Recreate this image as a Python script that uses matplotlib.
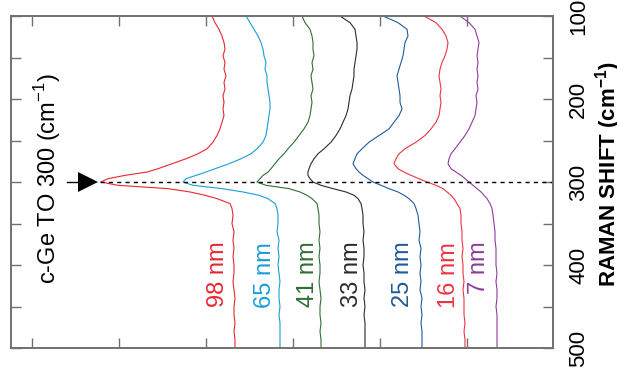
import matplotlib
matplotlib.use("Agg")
import matplotlib.pyplot as plt

plt.rcParams['font.family'] = ['Liberation Sans', 'DejaVu Sans']
plt.rcParams['mathtext.fontset'] = 'custom'
plt.rcParams['mathtext.rm'] = 'Liberation Sans'
plt.rcParams['mathtext.bf'] = 'Liberation Sans:bold'

# Raman shift grid (cm-1)
shift = [100, 108, 116, 124, 132, 140, 148, 156, 164, 172, 180, 188, 196, 204, 212, 220, 228, 236, 244, 252, 260,
         266, 272, 278, 284, 288, 292, 296, 300, 304, 308, 312, 316, 320, 326, 332, 340,
         350, 360, 370, 380, 390, 400, 410, 420, 430, 440, 450, 460, 470, 480, 490, 500]

# offset intensities (a.u.), one list per nanowire size
nw98 = [212, 215, 219, 222, 224, 225, 223, 225, 224, 226, 224, 225, 223, 224, 223, 224, 222, 220, 217, 213, 207,
        198, 186, 172, 158, 147, 125, 108, 101, 118, 168, 190, 205, 217, 230, 232, 233,
        232, 234, 233, 234, 233, 234, 234, 233, 234, 235, 234, 234, 235, 234, 235, 235]
nw65 = [246, 250, 254, 258, 261, 263, 264, 266, 265, 267, 267, 268, 269, 270, 270, 269, 268, 267, 266, 263, 257,
        251, 241, 229, 215, 206, 196, 186, 183, 193, 222, 243, 259, 268, 275, 277, 278,
        278, 277, 279, 278, 279, 278, 279, 280, 279, 279, 280, 279, 280, 280, 280, 280]
nw41 = [302, 305, 310, 312, 313, 313, 314, 312, 313, 311, 312, 313, 311, 312, 311, 310, 308, 304, 299, 294, 288,
        284, 279, 275, 271, 268, 263, 260, 257, 266, 289, 300, 307, 312, 317, 318, 319,
        319, 320, 319, 320, 319, 320, 320, 319, 320, 321, 320, 320, 321, 320, 321, 321]
nw33 = [340, 350, 355, 356, 357, 357, 356, 355, 354, 354, 353, 352, 350, 349, 348, 346, 343, 340, 336, 331, 324,
        318, 314, 311, 309, 308, 308, 310, 313, 321, 333, 346, 354, 358, 361, 362, 363,
        363, 364, 363, 364, 364, 363, 364, 364, 365, 364, 365, 364, 365, 365, 365, 365]
nw25 = [383, 398, 407, 408, 405, 404, 403, 401, 399, 397, 398, 399, 400, 400, 402, 399, 394, 389, 379, 369, 362,
        357, 355, 353, 356, 359, 363, 368, 373, 381, 389, 398, 404, 409, 414, 416, 418,
        419, 420, 419, 421, 420, 421, 420, 421, 420, 422, 421, 422, 421, 422, 422, 422]
nw16 = [424, 436, 442, 446, 448, 447, 445, 442, 440, 439, 440, 441, 440, 441, 440, 439, 436, 431, 425, 416, 405,
        399, 396, 394, 398, 404, 411, 419, 427, 436, 443, 447, 451, 454, 457, 460, 461,
        461, 462, 462, 463, 462, 463, 463, 464, 463, 464, 464, 464, 465, 464, 465, 465]
nw7 = [460, 469, 475, 477, 479, 478, 477, 478, 477, 478, 477, 478, 476, 477, 476, 475, 472, 469, 465, 460, 455,
       451, 449, 448, 451, 456, 461, 465, 469, 473, 477, 481, 484, 487, 490, 492, 493,
       494, 495, 495, 496, 496, 496, 497, 496, 497, 497, 496, 497, 497, 497, 497, 497]

spectra = [nw98, nw65, nw41, nw33, nw25, nw16, nw7]
labels = ['98 nm', '65 nm', '41 nm', '33 nm', '25 nm', '16 nm', '7 nm']
label_x = [218, 265, 308, 352, 403, 449, 479]
colors = ['#e8272f', '#1a9ddb', '#2f6e35', '#2b2b2b', '#1f5b99', '#ef3340', '#8e3b9c']

cge_to = 300
x_ticks = [32, 119, 206, 293, 380, 467]

fig = plt.figure(figsize=(6.17, 3.76), dpi=100)
ax = fig.add_axes([11 / 617, 1 - 348 / 376, 542 / 617, 332 / 376])

for s, lab, lx, c in zip(spectra, labels, label_x, colors):
    ax.plot(s, shift, color=c, lw=0.8)
    ax.text(lx, 372, lab, color=c, fontsize=17, rotation=90,
            rotation_mode='anchor', ha='right', va='center')

# c-Ge reference
ax.axhline(cge_to, xmin=(100 - 11) / 542, xmax=1, color='black', lw=1, ls=(0, (3, 3)))
ax.plot([67, 82], [cge_to, cge_to], color='black', lw=1)
ax.plot(88, cge_to, marker='>', color='black', ms=14, markeredgewidth=0)
ax.text(48, 296, 'c-Ge TO 300 (cm$^{-1}$)', fontsize=17, rotation=90,
        rotation_mode='anchor', ha='center', va='center')

ax.set_xlim(11, 553)
ax.set_ylim(500, 100)
ax.set_xticks(x_ticks)
ax.set_yticks(range(100, 501, 50))
ax.set_yticklabels([str(v) if v % 100 == 0 else '' for v in range(100, 501, 50)])

gray = '#707070'
for sp in ax.spines.values():
    sp.set_color(gray)
    sp.set_linewidth(1.4)

ax.tick_params(axis='x', direction='in', top=True, bottom=True, labelbottom=False,
               length=7.5, width=1, color=gray)
ax.tick_params(axis='y', direction='in', left=True, right=True, labelleft=False,
               labelright=True, length=7, width=1, color=gray, labelsize=16,
               labelrotation=90, pad=11)
for t in ax.get_yticklabels():
    t.set_va('center')

ax.yaxis.set_label_position('right')
ax.set_ylabel(r'RAMAN SHIFT (cm$^{\mathbf{-1}}$)', fontsize=16, fontweight='bold')
ax.yaxis.set_label_coords(1.074, 0.524)

fig.savefig('out.png', dpi=100)
